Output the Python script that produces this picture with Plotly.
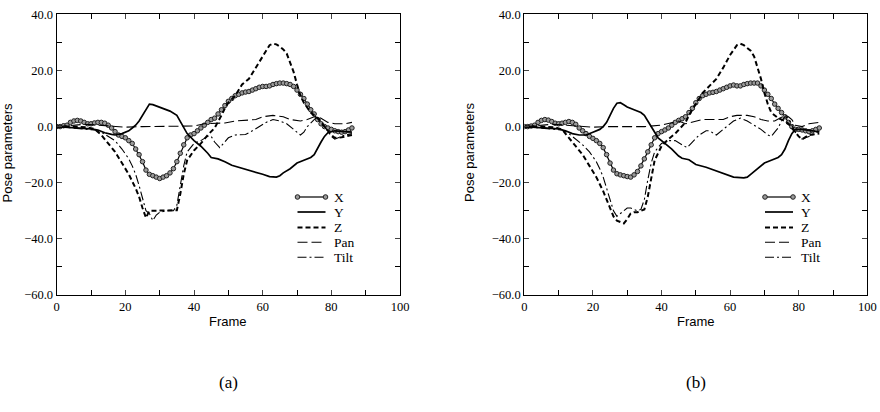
import plotly.graph_objects as go

# ---------------- data ----------------
frames_x = list(range(0, 87))
x_a = [0, 0, 0.3, 0.5, 1.5, 2, 2.2, 2, 1.5, 1, 1, 1.3, 1.5, 1.5, 1.2, 0.5, -0.5, -1.8, -3, -3.5,
       -4, -5, -6, -8, -10, -12.5, -15.5, -17, -17.5, -18, -18.5, -18, -17.5, -16.5, -15, -12.5,
       -9.5, -6.5, -4, -3, -2.5, -1.5, -0.5, 0.5, 1.5, 2.5, 3, 4.5, 6, 7.5, 9, 10, 11, 11.5, 12,
       12.3, 12.5, 13, 13.5, 14, 14.3, 14.3, 14.5, 15, 15.3, 15.5, 15.5, 15.3, 15, 14.3, 13, 11.5,
       10, 8, 6, 4.5, 2.5, 1, 0, -0.5, -1, -1.5, -1.8, -2, -1.8, -1.2, -0.5]
x_b = [0, 0, 0.2, 0.5, 1.5, 2.2, 2.5, 2.3, 1.8, 1.2, 1, 1.2, 1.5, 1.8, 1.5, 0.8, -0.5, -1.5, -2.5,
       -3.5, -4.2, -5, -6, -7.5, -10, -13, -15.5, -16.8, -17.2, -17.5, -17.8, -18, -17.2, -16, -14,
       -11.5, -9, -6.5, -4, -2.5, -1.8, -1.2, -0.5, 0.5, 1.5, 2.2, 2.8, 3.5, 5, 6.5, 8.5, 10, 11,
       11.5, 12, 12.2, 12.5, 13, 13.5, 14, 14.5, 14.8, 14.5, 14.5, 15, 15.3, 15.5, 15.5, 15.5, 14.5,
       13, 11.5, 10, 8, 6.5, 5, 3.5, 1.5, 0, -1, -1, -1.2, -1.5, -1.8, -1.5, -1, -0.5]

y_a_f = [0, 3, 6, 10, 12, 14, 16, 17, 19, 21, 22, 23, 24, 25, 26, 27, 28, 29, 31, 33, 35, 36, 37, 38,
         40, 42, 44, 45, 47, 49, 51, 54, 57, 60, 62, 64, 65, 66, 68, 70, 72, 74, 75, 76, 77, 78, 79,
         81, 84, 86]
y_a = [0, -0.2, -0.4, -0.8, -1.2, -2.2, -2.8, -3, -2.5, -1.5, -0.5, 0.5, 2, 4, 6.5, 8, 7.8, 7.3, 6.5,
       5.5, 4, 2, -0.5, -2.5, -5, -7, -9.5, -11, -11.5, -12.5, -13.8, -14.8, -15.8, -17, -17.8, -18,
       -17.5, -16.5, -15, -13, -12, -11, -10, -8, -5.5, -3.5, -2.2, -1.5, -1.8, -2]

z_a_f = [0, 5, 9, 11, 13, 15, 17, 19, 21, 23, 24, 25, 26, 27, 30, 33, 35, 36, 37, 38, 40, 42, 44, 46,
         47, 48, 49, 50, 52, 54, 56, 58, 60, 61, 62, 63, 64, 65, 66, 67, 68, 69, 70, 71, 72, 74, 76,
         78, 80, 81, 83, 86]
z_a = [0, 0, -0.3, -0.8, -3, -6, -9, -13, -17, -22, -25, -29, -32.5, -30, -30, -29.8, -29.8, -24,
       -17, -12, -8.5, -6, -3, -0.5, 1.5, 4, 6.5, 8.5, 11, 15, 17, 21, 25.5, 27.5, 29, 29.5, 29.3,
       28.5, 27.5, 26, 23, 19.5, 15, 11, 8.5, 5, 3, 0, -3, -4, -3.8, -3]

pan_a_f = [0, 4, 8, 11, 14, 17, 20, 25, 30, 35, 40, 43, 46, 49, 52, 55, 58, 60, 63, 66, 68, 71, 73,
           75, 77, 79, 81, 84, 86]
pan_a = [0, 0.5, 0.8, 0.6, 0.3, 0, -0.2, 0, 0, 0, 0.2, 1, 1.2, 1.3, 2, 2.2, 2.5, 3.5, 4, 3.5, 2.5,
         2, 2.5, 3.5, 3, 1.5, 1, 1, 1.5]

tilt_a_f = [0, 4, 8, 11, 13, 15, 17, 19, 21, 22, 23, 24, 25, 26, 27, 28, 29, 30, 32, 34, 35, 36, 37,
            38, 40, 42, 44, 45, 46, 47.5, 49, 50, 52, 55, 57, 59, 61, 63, 65, 67, 69, 71, 72, 73, 75,
            76, 77, 78, 79, 80, 81, 82, 84, 86]
tilt_a = [0, -0.5, -0.8, -1.2, -2, -3.5, -5, -8, -11.5, -14, -17, -21, -26, -30, -31, -33.5, -31.5,
          -30.5, -30, -30, -28, -21, -14, -9, -6, -5, -3.5, -3.5, -5.5, -7.5, -5.5, -4, -3, -2.8,
          -1.5, 0, 1.5, 2.5, 2, 1, -1, -3, -2, 0, 2.5, 3.5, 2, 0, -2, -3.5, -4.5, -4, -3, -2.5]

y_b_f = [0, 4, 8, 10, 12, 14, 16, 18, 20, 22, 23, 24, 25, 26, 27, 28, 29, 30, 32, 34, 35, 36, 37, 38,
         39, 41, 43, 45, 46, 48, 50, 53, 56, 59, 61, 64, 65, 66, 68, 70, 72, 74, 75, 76, 77, 78, 79,
         81, 84, 86]
y_b = [0, -0.3, -0.5, -0.8, -1.5, -2.5, -3, -3, -2, -1, 0, 1.5, 4, 6.5, 8.3, 8.5, 7.8, 7, 6, 5, 4, 2,
       0, -2.5, -4, -6, -8, -10.5, -11.3, -11.8, -13.5, -14.5, -15.8, -17, -18, -18.3, -18, -17,
       -15, -13, -12, -11, -10, -8, -5, -2.5, -1, -1, -1.5, -2]

z_b_f = [0, 5, 9, 11, 13, 15, 17, 19, 21, 23, 24, 25, 26, 27, 28, 29, 30, 31, 32, 33, 34, 35, 36, 37,
         38, 40, 42, 44, 46, 47, 48, 50, 52, 54, 56, 58, 60, 62, 63, 64, 66, 67, 68, 69, 70, 71, 72,
         74, 76, 77, 79, 80, 81, 83, 86]
z_b = [0, 0, -0.3, -1, -4, -7, -10, -14, -18, -23, -26, -29.5, -32, -33.5, -34, -34.5, -33, -31,
       -30.5, -30.5, -30, -29.5, -25, -18, -12, -7, -4.5, -2.5, 0, 1.5, 4, 8, 12, 14.5, 17, 21, 25.5,
       29, 29.5, 29, 27, 25, 21, 17, 12, 8, 5, 3, 2, 1, -2, -3.5, -4.5, -3, -2.5]

pan_b_f = [0, 4, 8, 11, 14, 17, 20, 25, 30, 35, 40, 43, 45, 47, 49, 52, 55, 58, 60, 62, 65, 67, 69,
           71, 73, 75, 76, 77, 78, 79, 81, 83, 86]
pan_b = [0, 0.5, 0.8, 0.6, 0.3, 0, -0.2, 0, 0, 0, 0.5, 1.5, 2, 1, 1.5, 2.5, 2.5, 2.5, 3.5, 4, 4, 3.5,
         2.5, 2, 2, 3.5, 4, 3.5, 2.5, 0.5, 0, 1, 1.5]

tilt_b_f = [0, 4, 8, 11, 13, 15, 17, 19, 21, 22, 23, 24, 25, 26, 27, 28, 29, 30, 31, 32, 33, 34, 35,
            36, 37, 38, 40, 42, 44, 46, 47.5, 49, 51, 53, 54, 56, 57, 59, 61, 63, 65, 67, 69, 71, 72,
            73, 74, 75, 76, 77, 78, 79, 80, 81, 82, 84, 86]
tilt_b = [0, -0.5, -0.8, -1.2, -2.5, -4.5, -6.5, -9, -12.5, -15, -18, -22, -26, -30, -32, -31, -30,
          -29, -29, -29.5, -30, -29.5, -26, -19, -13, -9, -6, -5, -5, -6.5, -7.5, -5.5, -3, -1.5,
          -1.5, -3, -2, 0, 2, 3, 2, 0.5, -1, -3, -3.5, -2, -0.5, 2, 3.5, 3, 0.5, -2, -3.5, -4.5, -4,
          -3, -1.5]

names = ["X", "Y", "Z", "Pan", "Tilt"]
panel_labels = ["(a)", "(b)"]
x_ticks = [0, 20, 40, 60, 80, 100]
y_ticks = [-60, -40, -20, 0, 20, 40]

# ---------------- figure ----------------
SERIF = "Liberation Serif"
SANS = "Liberation Sans"
W, H = 880, 412
fig = go.Figure()

styles = [
    dict(mode="lines+markers", line=dict(color="black", width=1.2),
         marker=dict(symbol="circle", size=4.5, color="#9a9a9a", line=dict(color="#222", width=1))),
    dict(mode="lines", line=dict(color="black", width=1.7)),
    dict(mode="lines", line=dict(color="black", width=2, dash="5px,3px")),
    dict(mode="lines", line=dict(color="black", width=1.1, dash="10px,4px")),
    dict(mode="lines", line=dict(color="black", width=1.1, dash="9px,3px,2px,3px")),
]
panels = [
    dict(xa="x", ya="y",
         data=[(frames_x, x_a), (y_a_f, y_a), (z_a_f, z_a), (pan_a_f, pan_a), (tilt_a_f, tilt_a)]),
    dict(xa="x2", ya="y2",
         data=[(frames_x, x_b), (y_b_f, y_b), (z_b_f, z_b), (pan_b_f, pan_b), (tilt_b_f, tilt_b)]),
]
for p in panels:
    for name, (fx, fy), st in zip(names, p["data"], styles):
        fig.add_trace(go.Scatter(x=fx, y=fy, name=name, xaxis=p["xa"], yaxis=p["ya"],
                                 showlegend=False, **st))

ax_common = dict(range=[0, 100], tickvals=x_ticks, ticks="inside", ticklen=5, tickwidth=1,
                 showline=True, linecolor="black", linewidth=1.2, mirror="ticks",
                 showgrid=False, zeroline=False, automargin=False,
                 minor=dict(dtick=10, ticks="inside", ticklen=5, tickcolor="black"),
                 tickfont=dict(family=SERIF, size=12.5, color="black"))
ay_common = dict(range=[-60, 40], tickvals=y_ticks, tickformat=".1f", ticks="inside", ticklen=5,
                 tickwidth=1, showline=True, linecolor="black", linewidth=1.2, mirror="ticks",
                 showgrid=False, zeroline=False, automargin=False,
                 minor=dict(dtick=10, ticks="inside", ticklen=5, tickcolor="black"),
                 tickfont=dict(family=SERIF, size=12.5, color="black"))

xd1 = [56.7 / W, 400 / W]
xd2 = [524.3 / W, 867.3 / W]
yd = [1 - 295 / H, 1 - 14.3 / H]

fig.update_layout(
    width=W, height=H, margin=dict(l=0, r=0, t=0, b=0, autoexpand=False),
    paper_bgcolor="white", plot_bgcolor="white", showlegend=False,
    xaxis=dict(domain=xd1, anchor="y", **ax_common),
    yaxis=dict(domain=yd, anchor="x", **ay_common),
    xaxis2=dict(domain=xd2, anchor="y2", **ax_common),
    yaxis2=dict(domain=yd, anchor="x2", **ay_common),
)

# ---- legend drawn as key samples + text (one per panel) ----
leg_rows_px = [197, 212, 227.5, 242.3, 257.3]
leg_dash = [None, None, "5px,3px", "10px,4px", "9px,3px,2px,3px"]
leg_width = [1.2, 1.7, 2, 1.1, 1.1]
leg_x0_px = [297.5, 765]
shapes, anns = [], []
for lx in leg_x0_px:
    sx0, sx1 = lx, lx + 28
    for name, ry, dsh, lw in zip(names, leg_rows_px, leg_dash, leg_width):
        yy = 1 - ry / H
        ln = dict(color="black", width=lw)
        if dsh:
            ln["dash"] = dsh
        shapes.append(dict(type="line", xref="paper", yref="paper", x0=sx0 / W, x1=sx1 / W,
                           y0=yy, y1=yy, line=ln))
        if name == "X":
            for cx in (sx0, sx1):
                shapes.append(dict(type="circle", xref="paper", yref="paper",
                                   x0=(cx - 2.3) / W, x1=(cx + 2.3) / W,
                                   y0=yy - 2.3 / H, y1=yy + 2.3 / H,
                                   fillcolor="#9a9a9a", line=dict(color="#222", width=1)))
        anns.append(dict(x=(sx1 + 6) / W, y=yy, xref="paper", yref="paper", text=name,
                         showarrow=False, xanchor="left", yanchor="middle",
                         font=dict(family=SERIF, size=13.5, color="black")))

for (x0, x1), lab in zip([xd1, xd2], panel_labels):
    cx = (x0 + x1) / 2
    anns.append(dict(x=cx, y=1 - 321 / H, xref="paper", yref="paper", text="Frame",
                     showarrow=False, font=dict(family=SANS, size=13, color="black"),
                     xanchor="center", yanchor="middle"))
    anns.append(dict(x=cx, y=1 - 382 / H, xref="paper", yref="paper", text=lab,
                     showarrow=False, font=dict(family=SERIF, size=17, color="black"),
                     xanchor="center", yanchor="middle"))
for px in [7.5, 470]:
    anns.append(dict(x=px / W, y=1 - 153 / H, xref="paper", yref="paper", text="Pose parameters",
                     textangle=-90, showarrow=False,
                     font=dict(family=SANS, size=13, color="black"),
                     xanchor="center", yanchor="middle"))
fig.update_layout(shapes=shapes, annotations=anns)

fig.write_html("out.html")
